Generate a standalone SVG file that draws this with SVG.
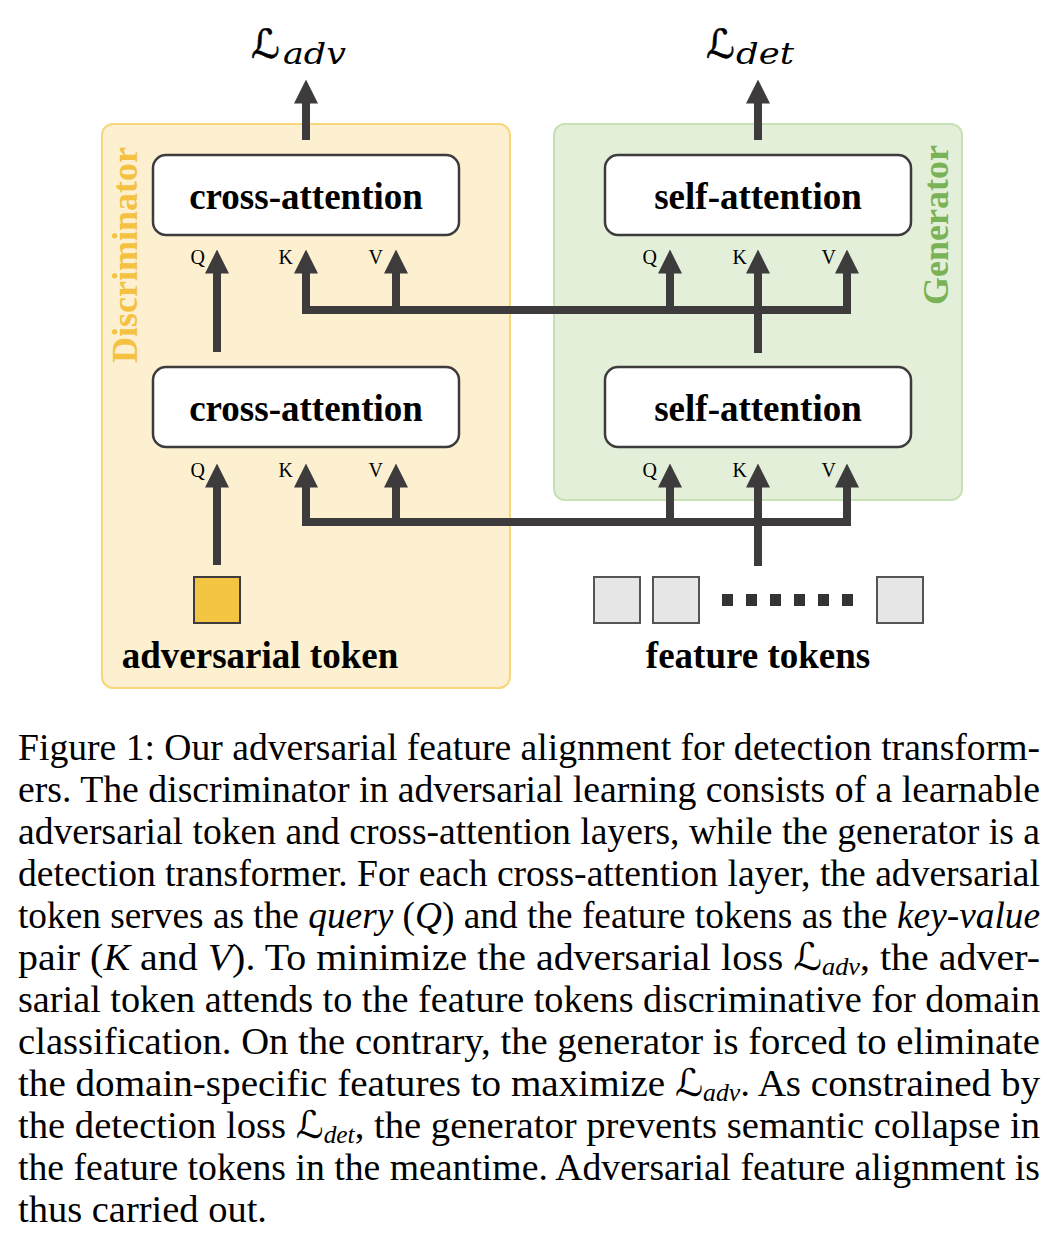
<svg xmlns="http://www.w3.org/2000/svg" width="1054" height="1238" viewBox="0 0 1054 1238">
<defs>
<style>
.box{fill:#fff;stroke:#3d3b3c;stroke-width:2.5}
.lbl{font-family:"Liberation Serif","Times New Roman",serif;font-weight:bold;font-size:37px;fill:#000;text-anchor:middle}
.qkv{font-family:"Liberation Serif","Times New Roman",serif;font-size:20px;fill:#000;text-anchor:end}
.conn{fill:none;stroke:#3d3b3c;stroke-width:8;stroke-linejoin:miter;stroke-linecap:butt}
.cap{font-family:"Liberation Serif","Times New Roman",serif;font-size:38px;fill:#000}
.it{font-style:italic}
.scr{font-family:"DejaVu Sans","DejaVu Serif",serif;font-style:normal}
.sub{font-family:"Liberation Serif",serif;font-style:italic;font-size:25px}
.side{font-family:"Liberation Serif","Times New Roman",serif;font-weight:bold;font-size:36px;text-anchor:middle}
.ftok{fill:#e6e6e6;stroke:#555;stroke-width:2}
</style>
<marker id="ah" markerUnits="userSpaceOnUse" markerWidth="24" markerHeight="24" viewBox="0 0 23 23" refX="0.5" refY="11.5" orient="auto-start-reverse">
<path d="M0,0 L23,11.5 L0,23 Z" fill="#3d3b3c"/>
</marker>
</defs>
<rect width="1054" height="1238" fill="#fff"/>

<g id="discriminator">
<rect x="102" y="124" width="408" height="564" rx="11" fill="#fcf0d0" stroke="#f7d77a" stroke-width="2"/>
<text class="side" fill="#f4c140" transform="translate(137,255) rotate(-90)">Discriminator</text>
</g>
<g id="generator">
<rect x="554" y="124" width="408" height="376" rx="11" fill="#e3efd9" stroke="#c8e1b4" stroke-width="2"/>
<text class="side" fill="#7ab357" transform="translate(948,225) rotate(-90)">Generator</text>
</g>

<g id="loss-adv">
<text x="251" y="58" font-family="DejaVu Sans, serif" font-size="40" stroke="#000" stroke-width="0.6">ℒ</text>
<text x="283" y="64" font-family="DejaVu Serif, serif" font-style="italic" font-size="30" textLength="63" lengthAdjust="spacingAndGlyphs">adv</text>
</g>
<g id="loss-det">
<text x="706" y="58" font-family="DejaVu Sans, serif" font-size="40" stroke="#000" stroke-width="0.6">ℒ</text>
<text x="736" y="64" font-family="DejaVu Serif, serif" font-style="italic" font-size="30" textLength="58" lengthAdjust="spacingAndGlyphs">det</text>
</g>

<g id="cross-attention-top">
<rect class="box" x="153" y="155" width="306" height="80" rx="13"/>
<text class="lbl" x="306" y="209">cross-attention</text>
<text class="qkv" x="205" y="264">Q</text>
<text class="qkv" x="293" y="264">K</text>
<text class="qkv" x="383" y="264">V</text>
</g>
<g id="cross-attention-bottom">
<rect class="box" x="153" y="367" width="306" height="80" rx="13"/>
<text class="lbl" x="306" y="421">cross-attention</text>
<text class="qkv" x="205" y="477">Q</text>
<text class="qkv" x="293" y="477">K</text>
<text class="qkv" x="383" y="477">V</text>
</g>
<g id="self-attention-top">
<rect class="box" x="605" y="155" width="306" height="80" rx="13"/>
<text class="lbl" x="758" y="209">self-attention</text>
<text class="qkv" x="657" y="264">Q</text>
<text class="qkv" x="747" y="264">K</text>
<text class="qkv" x="836" y="264">V</text>
</g>
<g id="self-attention-bottom">
<rect class="box" x="605" y="367" width="306" height="80" rx="13"/>
<text class="lbl" x="758" y="421">self-attention</text>
<text class="qkv" x="657" y="477">Q</text>
<text class="qkv" x="747" y="477">K</text>
<text class="qkv" x="836" y="477">V</text>
</g>

<g id="adversarial-token">
<rect x="194" y="577" width="46" height="46" fill="#f4c542" stroke="#3d3b3c" stroke-width="2"/>
<text class="lbl" x="260" y="668">adversarial token</text>
</g>
<g id="feature-tokens">
<rect class="ftok" x="594" y="577" width="46" height="46"/>
<rect class="ftok" x="653" y="577" width="46" height="46"/>
<rect class="ftok" x="877" y="577" width="46" height="46"/>
<g fill="#333">
<rect x="722" y="594" width="11" height="12"/>
<rect x="746" y="594" width="11" height="12"/>
<rect x="770" y="594" width="11" height="12"/>
<rect x="794" y="594" width="11" height="12"/>
<rect x="818" y="594" width="11" height="12"/>
<rect x="842" y="594" width="11" height="12"/>
</g>
<text class="lbl" x="758" y="668">feature tokens</text>
</g>

<g id="connectors">
<path class="conn" d="M306,140 V103" marker-end="url(#ah)"/>
<path class="conn" d="M758,140 V103" marker-end="url(#ah)"/>
<path class="conn" d="M217,352 V273" marker-end="url(#ah)"/>
<path class="conn" d="M306,273 V310 H847 V273" marker-start="url(#ah)" marker-end="url(#ah)"/>
<path class="conn" d="M396,310 V273" marker-end="url(#ah)"/>
<path class="conn" d="M670,310 V273" marker-end="url(#ah)"/>
<path class="conn" d="M758,353 V273" marker-end="url(#ah)"/>
<path class="conn" d="M217,565 V487" marker-end="url(#ah)"/>
<path class="conn" d="M306,487 V522 H847 V487" marker-start="url(#ah)" marker-end="url(#ah)"/>
<path class="conn" d="M396,522 V487" marker-end="url(#ah)"/>
<path class="conn" d="M670,522 V487" marker-end="url(#ah)"/>
<path class="conn" d="M758,566 V487" marker-end="url(#ah)"/>
</g>

<g id="caption" class="cap">
<text x="18" y="760" textLength="1022" lengthAdjust="spacingAndGlyphs">Figure 1: Our adversarial feature alignment for detection transform-</text>
<text x="18" y="802" textLength="1022" lengthAdjust="spacingAndGlyphs">ers. The discriminator in adversarial learning consists of a learnable</text>
<text x="18" y="844" textLength="1022" lengthAdjust="spacingAndGlyphs">adversarial token and cross-attention layers, while the generator is a</text>
<text x="18" y="886" textLength="1022" lengthAdjust="spacingAndGlyphs">detection transformer. For each cross-attention layer, the adversarial</text>
<text x="18" y="928" textLength="1022" lengthAdjust="spacingAndGlyphs">token serves as the <tspan class="it">query</tspan> (<tspan class="it">Q</tspan>) and the feature tokens as the <tspan class="it">key-value</tspan></text>
<text x="18" y="970" textLength="1022" lengthAdjust="spacingAndGlyphs">pair (<tspan class="it">K</tspan> and <tspan class="it">V</tspan>). To minimize the adversarial loss <tspan class="scr">ℒ</tspan><tspan class="sub" dy="5">adv</tspan><tspan dy="-5">, the adver-</tspan></text>
<text x="18" y="1012" textLength="1022" lengthAdjust="spacingAndGlyphs">sarial token attends to the feature tokens discriminative for domain</text>
<text x="18" y="1054" textLength="1022" lengthAdjust="spacingAndGlyphs">classification.  On the contrary, the generator is forced to eliminate</text>
<text x="18" y="1096" textLength="1022" lengthAdjust="spacingAndGlyphs">the domain-specific features to maximize <tspan class="scr">ℒ</tspan><tspan class="sub" dy="5">adv</tspan><tspan dy="-5">.  As constrained by</tspan></text>
<text x="18" y="1138" textLength="1022" lengthAdjust="spacingAndGlyphs">the detection loss <tspan class="scr">ℒ</tspan><tspan class="sub" dy="5">det</tspan><tspan dy="-5">, the generator prevents semantic collapse in</tspan></text>
<text x="18" y="1180" textLength="1022" lengthAdjust="spacingAndGlyphs">the feature tokens in the meantime. Adversarial feature alignment is</text>
<text x="18" y="1222" textLength="249" lengthAdjust="spacingAndGlyphs">thus carried out.</text>
</g>
</svg>
